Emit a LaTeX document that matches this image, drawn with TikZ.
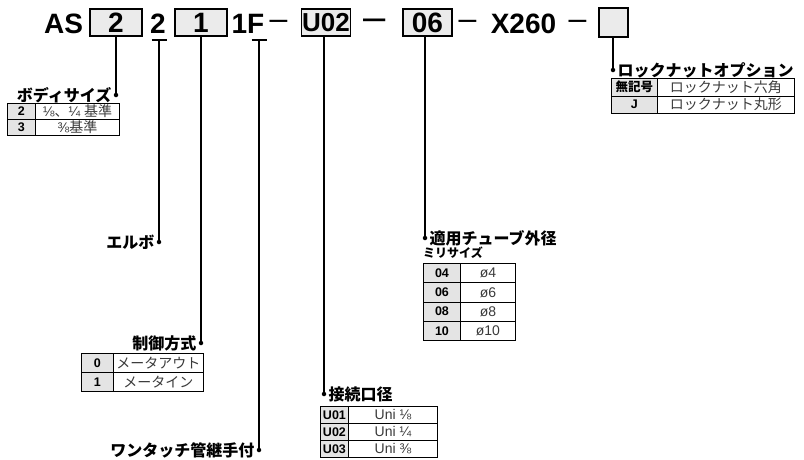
\documentclass[tikz,border=0pt]{standalone}
\usepackage{fontspec}
\setmainfont{Liberation Sans}
\newfontfamily\jp{Noto Sans CJK JP}
\usetikzlibrary{positioning}
\definecolor{boxgray}{HTML}{EBEBEB}
\definecolor{cellgray}{HTML}{E4E4E4}
\definecolor{txtgray}{HTML}{3A3A3A}

\begin{document}
\begin{tikzpicture}[x=1pt, y=-1pt,
		code/.style={font=\fontsize{28}{28}\selectfont\bfseries, inner sep=0pt, anchor=base},
		hyph/.style={font=\fontsize{32}{32}\selectfont, inner sep=0pt, anchor=base},
		codebox/.style={draw, fill=boxgray, line width=1.1pt, minimum height=27pt, inner sep=0pt, font=\fontsize{28}{28}\selectfont\bfseries},
		conn/.style={line width=1.2pt},
		dot/.style={circle, fill, inner sep=0pt, minimum size=4.5pt},
		lbl/.style={font=\jp\bfseries\fontsize{16}{16}\selectfont, inner sep=0pt},
		key/.style={draw, line width=0.9pt, fill=cellgray, inner sep=0pt, anchor=north west, font=\fontsize{12.5}{12.5}\selectfont\bfseries},
		val/.style={draw, line width=0.9pt, inner sep=0pt, anchor=north west, text=txtgray, font=\fontsize{14}{14}\selectfont}]
		\useasboundingbox (0,0) rectangle (804,459);

		\node[code] (as) at (63.5,33) {AS};
		\node[codebox, minimum width=52pt] (b1) at (116,22.5) {2};
		\node[code] (p2) at (158,33) {2};
		\node[codebox, minimum width=52pt] (b2) at (201,22.5) {1};
		\node[code] (p1f) at (248,33) {1F};
		\node[hyph] (s1) at (278.5,29) {–};
		\node[codebox, minimum width=49pt, font=\fontsize{26}{26}\selectfont\bfseries] (b3) at (326,22.5) {U02};
		\node[hyph, font=\fontsize{40}{40}\selectfont] (s2) at (375,30) {–};
		\node[codebox, minimum width=49pt] (b4) at (427.5,22.5) {06};
		\node[hyph] (s3) at (467.5,29) {–};
		\node[code] (x260) at (523.5,33) {X260};
		\node[hyph] (s4) at (577.5,29) {–};
		\node[codebox, minimum width=29pt, minimum height=29pt] (b5) at (613.5,22.5) {};

		\coordinate (u2) at (159,40);
		\coordinate (uF) at (259,40);
		\draw[conn] ([xshift=-7.5pt]u2) -- ([xshift=7.5pt]u2);
		\draw[conn] ([xshift=-7.5pt]uF) -- ([xshift=7.5pt]uF);

		\node[dot] (dBody) at (116,95) {};
		\node[dot] (dElbow) at (159,242) {};
		\node[dot] (dCtrl) at (201,343) {};
		\node[dot] (dTouch) at (259,450) {};
		\node[dot] (dPort) at (324,394) {};
		\node[dot] (dTube) at (425,238) {};
		\node[dot] (dNut) at (613,70) {};

		\draw[conn] (b1.south) -- (dBody);
		\draw[conn] (u2) -- (dElbow);
		\draw[conn] (b2.south) -- (dCtrl);
		\draw[conn] (uF) -- (dTouch);
		\draw[conn] (b3.south -| dPort) -- (dPort);
		\draw[conn] (b4.south -| dTube) -- (dTube);
		\draw[conn] (b5.south -| dNut) -- (dNut);

		\node[lbl, left=2pt of dBody] (lBody) {ボディサイズ};
		\node[lbl, left=2pt of dElbow] (lElbow) {エルボ};
		\node[lbl, left=2pt of dCtrl] (lCtrl) {制御方式};
		\node[lbl, left=2pt of dTouch] (lTouch) {ワンタッチ管継手付};
		\node[lbl, right=2pt of dPort] (lPort) {接続口径};
		\node[lbl, right=2pt of dTube] (lTube) {適用チューブ外径};
		\node[lbl, right=2pt of dNut] (lNut) {ロックナットオプション};
		\node[font=\jp\bfseries\fontsize{12}{12}\selectfont, inner sep=0pt, anchor=west] (lMm) at (423,253) {ミリサイズ};

		% body size
		\node[key, minimum width=28pt, minimum height=16pt] (bk1) at (7,103) {2};
		\node[val, minimum width=84pt, minimum height=16pt] (bv1) at (35,103) {⅛{\jp 、}¼ {\jp 基準}};
		\node[key, minimum width=28pt, minimum height=16pt] (bk2) at (7,119) {3};
		\node[val, minimum width=84pt, minimum height=16pt] (bv2) at (35,119) {⅜{\jp 基準}};

		% lock nut
		\node[key, minimum width=46pt, minimum height=17.5pt] (nk1) at (611,78) {\jp 無記号};
		\node[val, minimum width=137pt, minimum height=17.5pt] (nv1) at (657,78) {\jp ロックナット六角};
		\node[key, minimum width=46pt, minimum height=17.5pt] (nk2) at (611,95.5) {J};
		\node[val, minimum width=137pt, minimum height=17.5pt] (nv2) at (657,95.5) {\jp ロックナット丸形};

		% control
		\node[key, minimum width=32pt, minimum height=19pt] (ck1) at (81,353) {0};
		\node[val, minimum width=90pt, minimum height=19pt] (cv1) at (113,353) {\jp メータアウト};
		\node[key, minimum width=32pt, minimum height=19pt] (ck2) at (81,372) {1};
		\node[val, minimum width=90pt, minimum height=19pt] (cv2) at (113,372) {\jp メータイン};

		% tube
		\node[key, minimum width=37pt, minimum height=19.25pt] (tk1) at (423,263) {04};
		\node[val, minimum width=55pt, minimum height=19.25pt] (tv1) at (460,263) {ø4};
		\node[key, minimum width=37pt, minimum height=19.25pt] (tk2) at (423,282.25) {06};
		\node[val, minimum width=55pt, minimum height=19.25pt] (tv2) at (460,282.25) {ø6};
		\node[key, minimum width=37pt, minimum height=19.25pt] (tk3) at (423,301.5) {08};
		\node[val, minimum width=55pt, minimum height=19.25pt] (tv3) at (460,301.5) {ø8};
		\node[key, minimum width=37pt, minimum height=19.25pt] (tk4) at (423,320.75) {10};
		\node[val, minimum width=55pt, minimum height=19.25pt] (tv4) at (460,320.75) {ø10};

		% port
		\node[key, minimum width=28pt, minimum height=17pt] (pk1) at (320,406) {U01};
		\node[val, minimum width=89pt, minimum height=17pt] (pv1) at (348,406) {Uni ⅛};
		\node[key, minimum width=28pt, minimum height=17pt] (pk2) at (320,423) {U02};
		\node[val, minimum width=89pt, minimum height=17pt] (pv2) at (348,423) {Uni ¼};
		\node[key, minimum width=28pt, minimum height=17pt] (pk3) at (320,440) {U03};
		\node[val, minimum width=89pt, minimum height=17pt] (pv3) at (348,440) {Uni ⅜};
	\end{tikzpicture}
\end{document}
